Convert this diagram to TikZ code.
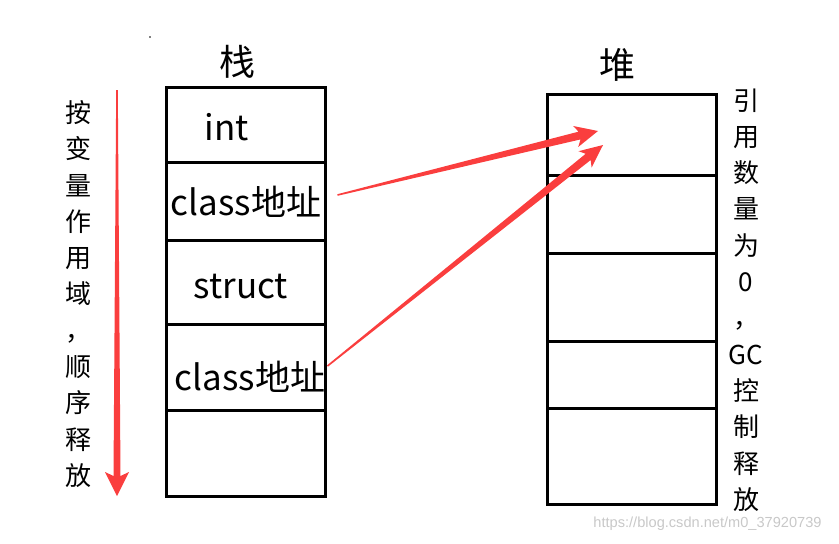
\documentclass[tikz,border=0pt]{standalone}
\usepackage{fontspec}
\setmainfont{Noto Sans CJK SC}
\newfontfamily\urlfont{Liberation Sans}
\usetikzlibrary{calc,positioning}
\definecolor{arrowred}{RGB}{250,62,62}
\definecolor{markgray}{RGB}{200,200,200}
% tapered red arrow: from, tip, neck half width, head half width, head length
\newcommand{\taperarrow}[5]{%
	\coordinate (neck) at ($(#2)!#5-4pt!(#1)$);
	\coordinate (barb) at ($(#2)!#5!(#1)$);
	\fill[arrowred] ($(#1)!0.8pt!90:(#2)$) -- ($(neck)!#3!90:(#2)$) -- ($(barb)!#4!90:(#2)$) -- (#2)
		-- ($(barb)!#4!-90:(#2)$) -- ($(neck)!#3!-90:(#2)$) -- ($(#1)!0.8pt!-90:(#2)$) -- cycle;
}

\begin{document}
\begin{tikzpicture}[x=1pt,y=-1pt,
	cell/.style={draw,line width=3pt,inner sep=0pt},
	celltext/.style={font=\fontsize{35}{40}\selectfont,inner sep=0pt},
	vtext/.style={align=center,inner sep=0pt,font=\fontsize{26}{36.3}\selectfont}]
	\useasboundingbox (0,0) rectangle (839,544);
	\fill (150,37) circle (0.8);
	% stack
	\node at (237,62)[font=\fontsize{36}{40}\selectfont] (stacktitle) {栈};
	\node at (245.5,124.5)[cell,minimum width=159pt,minimum height=75pt] (s1) {};
	\node at (245.5,201)[cell,minimum width=159pt,minimum height=78pt] (s2) {};
	\node at (245.5,282)[cell,minimum width=159pt,minimum height=84pt] (s3) {};
	\node at (245.5,367)[cell,minimum width=159pt,minimum height=86pt] (s4) {};
	\node at (245.5,453)[cell,minimum width=159pt,minimum height=86pt] (s5) {};
	\node at (227,127)[celltext] (int) {int};
	\node at (246,202)[celltext] (ref1) {class地址};
	\node at (241,287)[celltext] (struct) {struct};
	\node at (250,377)[celltext] (ref2) {class地址};
	% heap
	\node at (617,65)[font=\fontsize{36}{40}\selectfont] (heaptitle) {堆};
	\node at (631.5,134.5)[cell,minimum width=169pt,minimum height=81pt] (h1) {};
	\node at (631.5,214)[cell,minimum width=169pt,minimum height=78pt] (h2) {};
	\node at (631.5,297)[cell,minimum width=169pt,minimum height=88pt] (h3) {};
	\node at (631.5,374.5)[cell,minimum width=169pt,minimum height=67pt] (h4) {};
	\node at (631.5,456)[cell,minimum width=169pt,minimum height=96pt] (h5) {};
	% side notes
	\node at (78,294)[vtext] (scope) {按\\变\\量\\作\\用\\域\\，\\顺\\序\\释\\放};
	\node at (746,300)[vtext] (gc) {引\\用\\数\\量\\为\\0\\，\\GC\\控\\制\\释\\放};
	\coordinate (top) at (117,90);
	\coordinate (bottom) at (117,496);
	\taperarrow{top}{bottom}{3.5pt}{12pt}{24pt}
	% references into the heap
	\coordinate (from1) at ($(s2.east)+(11,-6)$);
	\coordinate (from2) at ($(s4.east)+(1,-1)$);
	\coordinate (tip1) at (598,131);
	\coordinate (tip2) at (603,145);
	\taperarrow{from1}{tip1}{4pt}{10.8pt}{23pt}
	\taperarrow{from2}{tip2}{4pt}{10.5pt}{23pt}
	\node at (707.5,524)[text=markgray,font=\urlfont\fontsize{14.6}{16}\selectfont] (mark) {https://blog.csdn.net/m0\_37920739};
\end{tikzpicture}
\end{document}
